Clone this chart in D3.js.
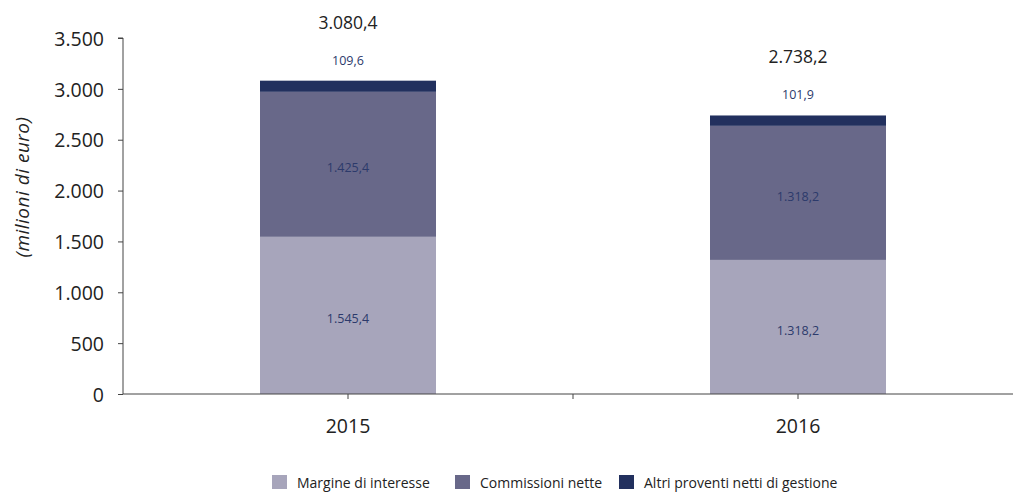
<!DOCTYPE html>
<html><head><meta charset="utf-8">
<script src="https://cdn.jsdelivr.net/npm/d3@7"></script>
<style>body{margin:0;background:#fff;} svg{display:block;}</style>
</head><body>
<svg id="c" width="1013" height="493"></svg>
<script>
const categories = ["2015", "2016"];
const seriesNames = ["Margine di interesse", "Commissioni nette", "Altri proventi netti di gestione"];
const margine = [1545.4, 1318.2];
const commissioni = [1425.4, 1318.2];
const altri = [109.6, 101.9];
const totals = [3080.4, 2738.2];
const yTicks = [0, 500, 1000, 1500, 2000, 2500, 3000, 3500];
const colors = ["#a7a5bb", "#686889", "#22305e"];

const fmt = d3.formatLocale({decimal: ",", thousands: ".", grouping: [3], currency: ["", "€"]});
const f1 = fmt.format(",.1f"), f0 = fmt.format(",.0f");

const svg = d3.select("#c");
const m = {l: 123, r: 1023, t: 38, b: 394};
const x = d3.scaleBand().domain(categories).range([m.l, m.r]).paddingInner(0).paddingOuter(0);
const y = d3.scaleLinear().domain([0, 3500]).range([m.b, m.t]);
const barW = 176;
const font = "'Open Sans', sans-serif";

const data = categories.map((c, i) => ({cat: c, m: margine[i], c: commissioni[i], a: altri[i]}));
const stack = d3.stack().keys(["m", "c", "a"])(data);

stack.forEach((layer, li) => {
  svg.append("g").selectAll("rect").data(layer).join("rect")
    .attr("x", d => x(d.data.cat) + x.bandwidth() / 2 - barW / 2)
    .attr("width", barW)
    .attr("y", d => y(d[1]))
    .attr("height", d => y(d[0]) - y(d[1]))
    .attr("fill", colors[li]);
});

// segment labels
stack.forEach((layer, li) => {
  svg.append("g").selectAll("text").data(layer).join("text")
    .attr("x", d => x(d.data.cat) + x.bandwidth() / 2)
    .attr("y", d => li === 2 ? y(d[1]) - 16 : (y(d[0]) + y(d[1])) / 2 + 8)
    .attr("text-anchor", "middle")
    .attr("font-family", font)
    .attr("font-size", 12.5)
    .attr("fill", "#2c3a6b")
    .text(d => f1(d[1] - d[0]));
});

// totals
svg.append("g").selectAll("text").data(categories).join("text")
  .attr("x", d => x(d) + x.bandwidth() / 2)
  .attr("y", (d, i) => y(totals[i]) - 52)
  .attr("text-anchor", "middle")
  .attr("font-family", font)
  .attr("font-size", 17.5)
  .attr("fill", "#222")
  .text((d, i) => f1(totals[i]));

// y axis
const yAxis = d3.axisLeft(y).tickValues(yTicks).tickSize(5).tickFormat(d => f0(d));
const gy = svg.append("g").attr("transform", `translate(${m.l},0)`).call(yAxis);
gy.select(".domain").attr("stroke", "#444").attr("d", `M-5,${m.t}H0V${m.b}`);
gy.selectAll(".tick line").attr("stroke", "#444");
gy.selectAll(".tick text").attr("font-family", font).attr("font-size", 19.5).attr("fill", "#222").attr("x", -19).attr("dy", "0.37em");

// x axis
svg.append("line").attr("x1", m.l).attr("x2", 1013).attr("y1", m.b).attr("y2", m.b).attr("stroke", "#444");
const xTickPos = [];
categories.forEach((c, i) => { xTickPos.push(x(c) + x.bandwidth() / 2); if (i > 0) xTickPos.push(x(c)); });
svg.append("g").selectAll("line").data(xTickPos).join("line")
  .attr("x1", d => d).attr("x2", d => d).attr("y1", m.b).attr("y2", m.b + 5).attr("stroke", "#444");
svg.append("g").selectAll("text").data(categories).join("text")
  .attr("x", d => x(d) + x.bandwidth() / 2).attr("y", 433)
  .attr("text-anchor", "middle")
  .attr("font-family", font)
  .attr("font-size", 19.5).attr("fill", "#222").text(d => d);

// y title
svg.append("text").attr("transform", "translate(29,187) rotate(-90)")
  .attr("text-anchor", "middle").attr("font-family", font)
  .attr("font-style", "italic").attr("font-size", 19).attr("letter-spacing", 0.5).attr("fill", "#222")
  .text("(milioni di euro)");

// legend
const legX = [272, 455, 619];
const lg = svg.append("g");
seriesNames.forEach((n, i) => {
  lg.append("rect").attr("x", legX[i]).attr("y", 475).attr("width", 15).attr("height", 14).attr("fill", colors[i]);
  lg.append("text").attr("x", legX[i] + 25).attr("y", 488).attr("font-family", font)
    .attr("font-size", 14).attr("fill", "#222").text(n);
});
</script>
</body></html>
